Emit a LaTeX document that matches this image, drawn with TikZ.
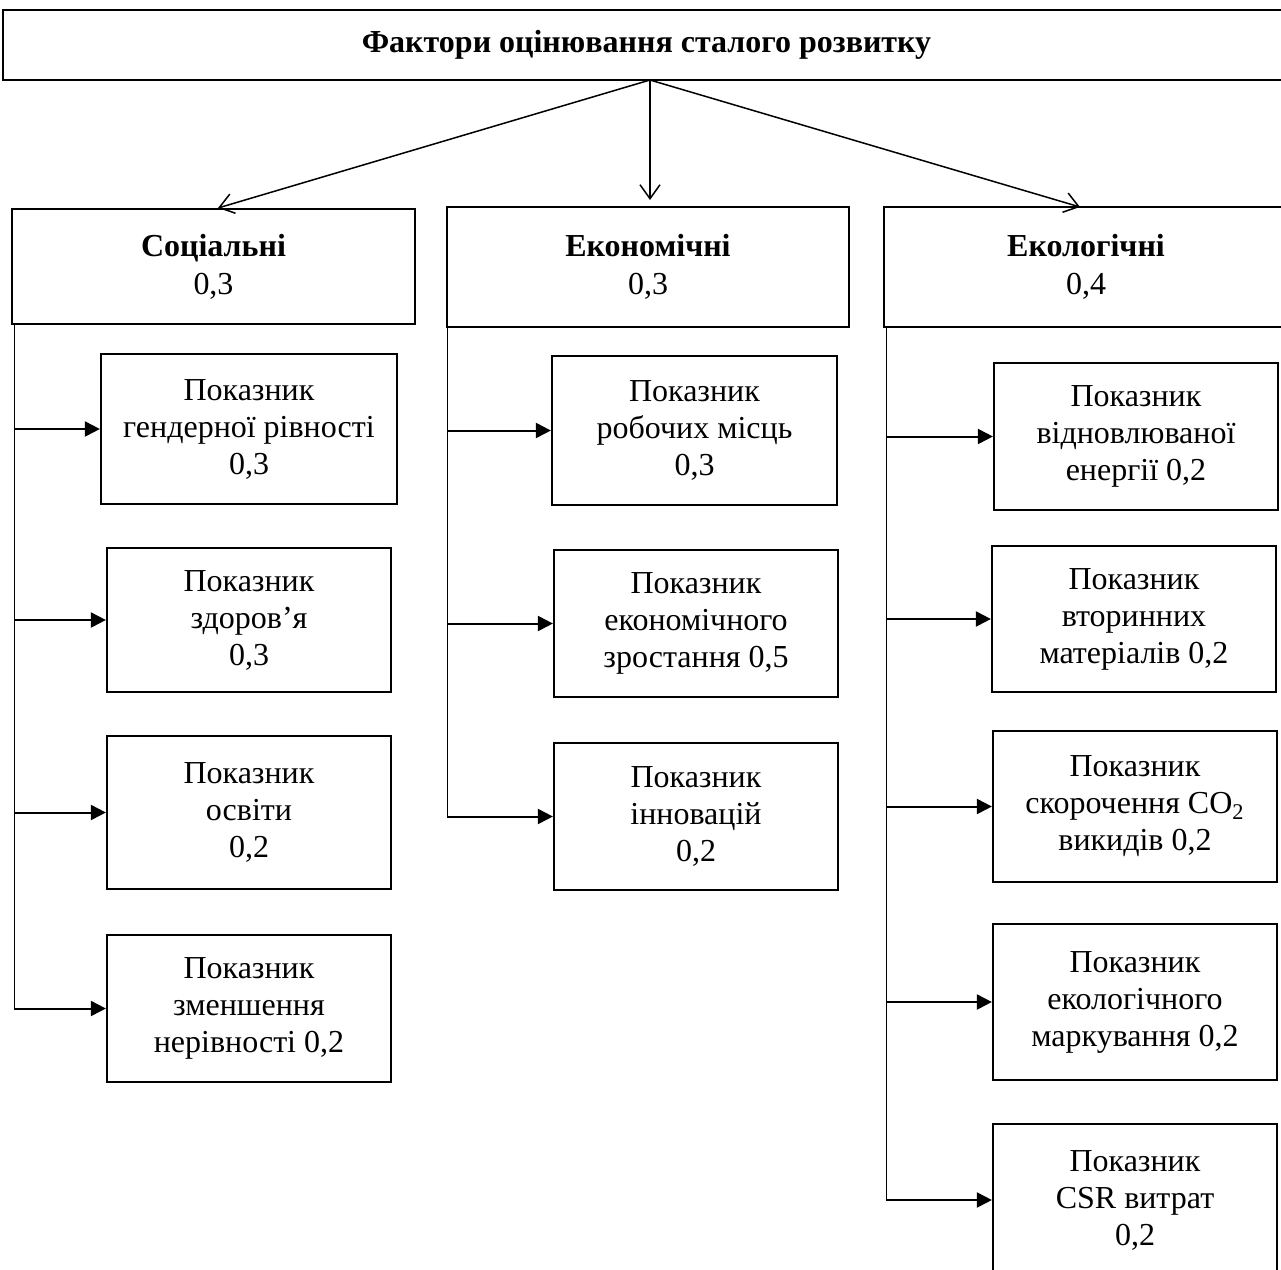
\documentclass[tikz,border=0pt]{standalone}
\usepackage{fontspec}
\setmainfont{Liberation Serif}
\usetikzlibrary{arrows.meta,calc}
\begin{document}
\begin{tikzpicture}[x=0.5pt,y=-0.5pt,
  box/.style={draw, line width=1.1pt, inner sep=0pt, align=center,
    font=\fontsize{16}{18.5}\selectfont},
  headbox/.style={box, font=\fontsize{16}{19}\selectfont},
  toparrow/.style={line width=0.75pt, -{Straight Barb[length=7pt,width=10pt]}},
  harrow/.style={line width=1pt, -{Triangle[length=7.5pt,width=7.5pt]}},
  trunk/.style={line width=0.5pt}]
\useasboundingbox (0,0) rectangle (1281,1270);
\clip (0,0) rectangle (1281,1270);

\node[box, minimum width=1287*0.5pt, minimum height=70*0.5pt] (top) at (646.5,45)
  {\textbf{Фактори оцінювання сталого розвитку}};

\node[headbox, minimum width=403*0.5pt, minimum height=115*0.5pt] (soc) at (213.5,266.5)
  {\textbf{Соціальні}\\0,3};
\node[headbox, minimum width=402*0.5pt, minimum height=120*0.5pt] (econ) at (648,267)
  {\textbf{Економічні}\\0,3};
\node[headbox, minimum width=404*0.5pt, minimum height=120*0.5pt] (eco) at (1086,267)
  {\textbf{Екологічні}\\0,4};

\node[box, minimum width=296*0.5pt, minimum height=150*0.5pt] (s1) at (249,429)
  {Показник\\гендерної рівності\\0,3};
\node[box, minimum width=284*0.5pt, minimum height=144*0.5pt] (s2) at (249,620)
  {Показник\\здоров’я\\0,3};
\node[box, minimum width=284*0.5pt, minimum height=153*0.5pt] (s3) at (249,812.5)
  {Показник\\освіти\\0,2};
\node[box, minimum width=284*0.5pt, minimum height=147*0.5pt] (s4) at (249,1008.5)
  {Показник\\зменшення\\нерівності 0,2};

\node[box, minimum width=285*0.5pt, minimum height=149*0.5pt] (e1) at (694.5,430.5)
  {Показник\\робочих місць\\0,3};
\node[box, minimum width=284*0.5pt, minimum height=147*0.5pt] (e2) at (696,623.5)
  {Показник\\економічного\\зростання 0,5};
\node[box, minimum width=284*0.5pt, minimum height=147*0.5pt] (e3) at (696,816.5)
  {Показник\\інновацій\\0,2};

\node[box, minimum width=284*0.5pt, minimum height=147*0.5pt] (g1) at (1136,436.5)
  {Показник\\відновлюваної\\енергії 0,2};
\node[box, minimum width=284*0.5pt, minimum height=146*0.5pt] (g2) at (1134,619)
  {Показник\\вторинних\\матеріалів 0,2};
\node[box, minimum width=284*0.5pt, minimum height=151*0.5pt] (g3) at (1135,806.5)
  {Показник\\скорочення CO\textsubscript{2}\\викидів 0,2};
\node[box, minimum width=284*0.5pt, minimum height=156*0.5pt] (g4) at (1135,1002)
  {Показник\\екологічного\\маркування 0,2};
\node[box, minimum width=284*0.5pt, minimum height=152*0.5pt] (g5) at (1135,1200)
  {Показник\\CSR витрат\\0,2};

% top arrows
\coordinate (hub) at (650,80);
\coordinate (tsoc) at (218,208);
\coordinate (tecon) at (650,200);
\coordinate (teco) at (1080,207);
\draw[toparrow] (hub) -- (tsoc);
\draw[toparrow] (hub) -- (tecon);
\draw[toparrow] (hub) -- (teco);

% trunks
\coordinate (st) at (14,324);
\coordinate (et) at (447,327);
\coordinate (gt) at (886,327);
\draw[trunk] (st) -- (s4.west -| st);
\draw[trunk] (et) -- (e3.west -| et);
\draw[trunk] (gt) -- (g5.west -| gt);

\foreach \n in {s1,s2,s3,s4} \draw[harrow] (\n.west -| st) -- (\n.west);
\foreach \n in {e1,e2,e3} \draw[harrow] (\n.west -| et) -- (\n.west);
\foreach \n in {g1,g2,g3,g4,g5} \draw[harrow] (\n.west -| gt) -- (\n.west);
\end{tikzpicture}
\end{document}
